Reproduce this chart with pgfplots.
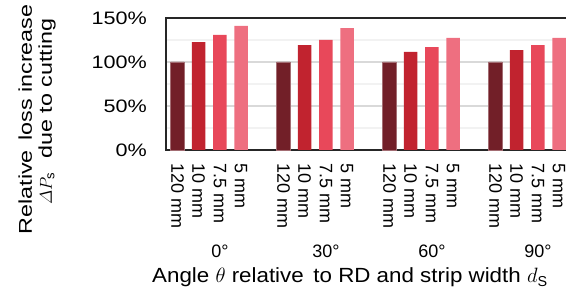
\documentclass[border=0pt]{standalone}
\usepackage{amsmath}
\usepackage{pgfplots}
\pgfplotsset{compat=1.18}
\usepackage{fontspec}
\setmainfont{Liberation Sans}
\newfontfamily\widefont{Liberation Sans}[FakeStretch=1.2]
\newfontfamily\ylfont{Liberation Sans}[FakeStretch=1.26]
\newfontfamily\xlfont{Liberation Sans}[FakeStretch=1.09]
\definecolor{cA}{HTML}{721F28}
\definecolor{cB}{HTML}{C1232F}
\definecolor{cC}{HTML}{E8485A}
\definecolor{cD}{HTML}{EE6F80}
\begin{document}
\begin{tikzpicture}
\begin{axis}[
  at={(0,0)}, anchor=south west,
  scale only axis, width=401.5pt, height=132pt,
  xmin=-0.542, xmax=18.397,
  ymin=0, ymax=150,
  ybar, bar width=0.637, bar shift=0pt,
  ytick={0,50,100,150},
  yticklabels={0\%,50\%,100\%,150\%},
  minor ytick={25,75,125},
  ymajorgrids, yminorgrids,
  major grid style={color=black!15, line width=1.5pt},
  minor grid style={color=black!5, line width=1.5pt},
  major tick length=0pt, minor tick length=0pt,
  axis line style={color=black!85, line width=1.5pt},
  yticklabel style={font=\widefont\fontsize{18}{18}\selectfont, anchor=east, inner sep=0pt, xshift=-19pt},
  xtick={0,1,2,3,5,6,7,8,10,11,12,13,15,16,17,18},
  xticklabels={120 mm,10 mm,7.5 mm,5 mm,120 mm,10 mm,7.5 mm,5 mm,120 mm,10 mm,7.5 mm,5 mm,120 mm,10 mm,7.5 mm,5 mm},
  xticklabel style={font=\fontsize{18}{18}\selectfont, rotate=-90, anchor=west, inner sep=0pt, inner xsep=13pt},
  clip=false,
]
\addplot[fill=cA, draw=cA!65!white, line width=0.6pt] coordinates {(0,100) (5,100) (10,100) (15,100)};
\addplot[fill=cB, draw=none] coordinates {(1,122.7) (6,119.3) (11,111.4) (16,113.6)};
\addplot[fill=cC, draw=none] coordinates {(2,130.7) (7,125) (12,117) (17,119.3)};
\addplot[fill=cD, draw=none] coordinates {(3,141) (8,138.6) (13,127.3) (18,127.3)};
\node[font=\fontsize{18}{18}\selectfont, anchor=center] at ([yshift=-101pt]axis cs:2,0) {0°};
\node[font=\fontsize{18}{18}\selectfont, anchor=center] at ([yshift=-101pt]axis cs:7,0) {30°};
\node[font=\fontsize{18}{18}\selectfont, anchor=center] at ([yshift=-101pt]axis cs:12,0) {60°};
\node[font=\fontsize{18}{18}\selectfont, anchor=center] at ([yshift=-101pt]axis cs:17,0) {90°};
\node[font=\xlfont\fontsize{20.5}{21}\selectfont, anchor=base west, inner sep=0pt] at ([xshift=-14pt, yshift=-133pt]axis description cs:0,0) {Angle $\theta$ relative\, to RD and strip width $d_\mathrm{S}$};
\node[font=\ylfont\fontsize{18.5}{20}\selectfont, rotate=90, align=center, inner sep=0pt] at ([xshift=-129pt]axis description cs:0,0.232) {Relative\, loss increase\\\hspace*{16pt}$\varDelta P_\mathrm{s}$\hspace{14pt}due to cutting};
\end{axis}
\pgfresetboundingbox
\useasboundingbox (-166pt,-141pt) rectangle (400pt,150pt);
\end{tikzpicture}
\end{document}
